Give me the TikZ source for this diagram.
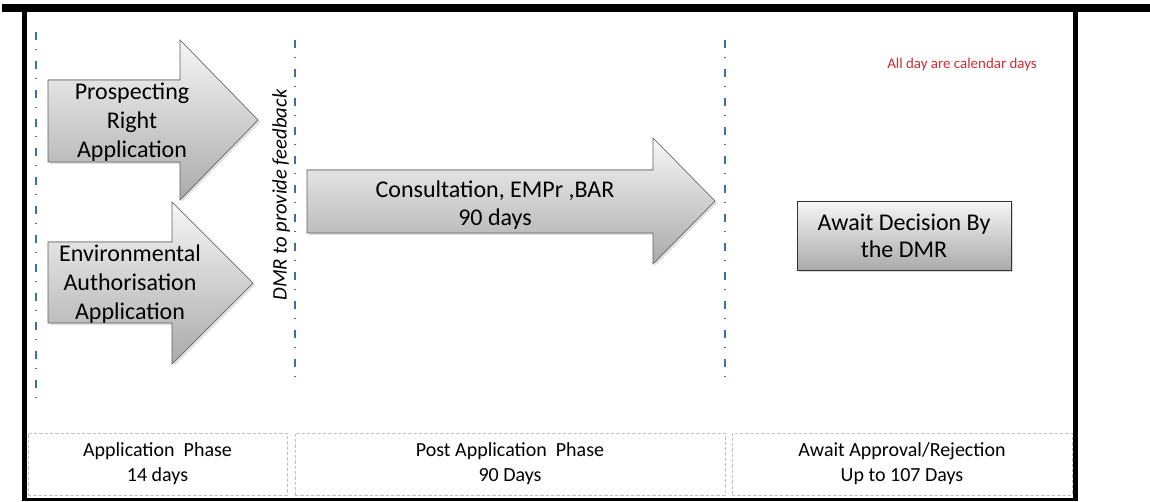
\documentclass[tikz,border=0pt]{standalone}
\usepackage{fontspec}
\setmainfont{Carlito}
\usetikzlibrary{positioning,shadows}
\tikzstyle{canvas} = [x = 0.75pt, y = -0.75pt]
\definecolor{phaseBlue}{RGB}{62,110,168}
\definecolor{arrowTop}{RGB}{246,246,246}
\definecolor{arrowBottom}{RGB}{170,170,170}
\definecolor{arrowEdge}{RGB}{95,95,95}
\definecolor{noteRed}{RGB}{208,44,52}
\definecolor{phaseGrey}{RGB}{192,192,192}
\tikzstyle{frameStyle} = [fill=black]
\tikzstyle{phaseLineStyle} = [color=phaseBlue, line width=2.1pt, dash pattern=on 6pt off 6.6pt on 1.2pt off 7.95pt]
\tikzstyle{arrowStyle} = [draw=arrowEdge, top color=arrowTop, bottom color=arrowBottom, drop shadow={opacity=0.25, shadow xshift=1.5pt, shadow yshift=-1.5pt}]
\tikzstyle{arrowText} = [align=center, inner sep=0pt, font=\fontsize{18}{21.5}\selectfont]
\tikzstyle{decisionBox} = [draw=black!80, top color=arrowTop, bottom color=arrowBottom, drop shadow={opacity=0.3, shadow xshift=1.5pt, shadow yshift=-1.5pt}, align=center, inner sep=0pt, minimum width=160.5pt, minimum height=51.75pt, font=\fontsize{18}{20.25}\selectfont]
\tikzstyle{feedbackText} = [rotate=90, inner sep=0pt, font=\fontsize{15.5}{18}\selectfont\itshape]
\tikzstyle{noteText} = [color=noteRed, inner sep=0pt, font=\fontsize{11.2}{13}\selectfont]
\tikzstyle{phaseBox} = [draw=phaseGrey, thin, dash pattern=on 2.5pt off 1.5pt, align=center, inner sep=0pt, minimum height=46.5pt, font=\fontsize{15}{18.75}\selectfont]
% #1 left, #2 body top, #3 body bottom, #4 head x, #5 head top, #6 head bottom, #7 tip x
\newcommand{\blockArrow}[7]{\filldraw [arrowStyle] (#1, #2) -- (#4, #2) -- (#4, #5) -- (#7, {(#5 + #6) / 2}) -- (#4, #6) -- (#4, #3) -- (#1, #3) -- cycle;}
\newcommand{\phaseLine}[3]{\draw [phaseLineStyle] (#1, #2) -- (#1, #3);}
\newcommand{\frameBar}[4]{\fill [frameStyle] (#1, #2) rectangle (#3, #4);}

\begin{document}
\begin{tikzpicture}[canvas]
  \useasboundingbox (0,0) rectangle (1150,502);
  \fill [white] (0,0) rectangle (1150,502);

  % frame
  \frameBar{2}{4}{1150}{12}
  \frameBar{22}{12}{27}{501}
  \frameBar{1073}{12}{1078}{501}
  \frameBar{22}{498}{1078}{501}

  % phase borders
  \phaseLine{36}{32}{397}
  \phaseLine{295}{40}{387}
  \phaseLine{725}{40}{387}

  % arrows
  \blockArrow{48}{80}{162}{180}{40}{200}{258}
  \blockArrow{48}{242}{323}{172}{202}{364}{253}
  \blockArrow{307}{170}{233}{653}{138}{264}{715}

  \node [arrowText] (prospecting) at (132,122) {Prospecting\\Right\\Application};
  \node [arrowText] (environmental) at (130,284) {Environmental\\Authorisation\\Application};
  \node [arrowText] (consultation) at (495,205) {Consultation, EMPr ,BAR\\90 days};
  \node [feedbackText] (feedback) at (281,195) {DMR to provide feedback};

  \node [decisionBox] (decision) at (904,235.5) {Await Decision By\\the DMR};
  \node [noteText] (note) at (962,65) {All day are calendar days};

  % phases
  \node [phaseBox, minimum width=194.25pt] (applicationPhase) at (157.5,464) {Application~~Phase\\14 days};
  \node [phaseBox, minimum width=322.5pt] (postPhase) at (510,464) {Post Application~~Phase\\90 Days};
  \node [phaseBox, minimum width=255pt] (awaitPhase) at (902,464) {Await Approval/Rejection\\Up to 107 Days};
\end{tikzpicture}
\end{document}
